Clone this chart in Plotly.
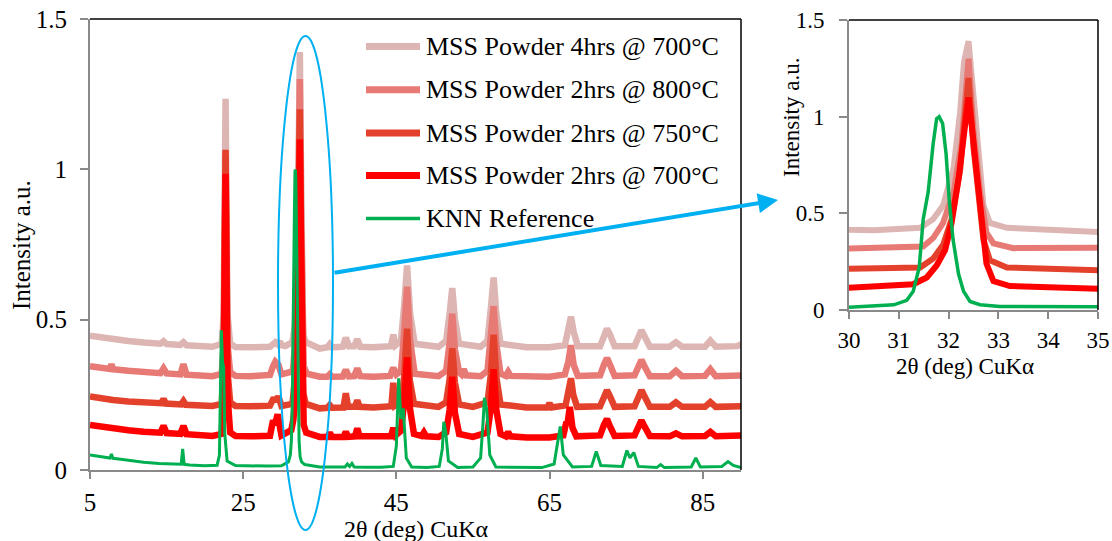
import plotly.graph_objects as go

W, H = 1112, 541
FONT = "Liberation Serif"

# ---- X-ray diffraction patterns: (2θ in degrees, normalised intensity) ----
knn_reference = [
    (5.0, 0.050), (6.0, 0.046), (7.0, 0.042), (7.6, 0.040), (7.8, 0.053), (8.0, 0.039),
    (9.0, 0.036), (10.0, 0.032), (12.0, 0.026), (14.0, 0.022), (16.0, 0.019), (16.9, 0.019),
    (17.1, 0.070), (17.3, 0.019), (18.0, 0.017), (20.0, 0.014), (21.6, 0.016), (21.9, 0.050),
    (22.05, 0.300), (22.15, 0.465), (22.3, 0.360), (22.45, 0.340), (22.6, 0.120), (22.9, 0.030),
    (24.0, 0.015), (26.0, 0.013), (28.0, 0.013), (30.0, 0.014), (30.9, 0.027), (31.16, 0.050),
    (31.29, 0.097), (31.41, 0.220), (31.49, 0.470), (31.59, 0.610), (31.69, 0.860), (31.76, 0.990),
    (31.81, 1.000), (31.88, 0.965), (31.95, 0.806), (32.01, 0.576), (32.09, 0.363), (32.2, 0.186),
    (32.3, 0.097), (32.43, 0.044), (32.63, 0.027), (33.03, 0.018), (35.0, 0.010), (37.0, 0.010),
    (38.3, 0.010), (38.6, 0.020), (38.9, 0.012), (39.2, 0.022), (39.5, 0.010), (41.0, 0.009),
    (43.0, 0.009), (44.6, 0.012), (45.0, 0.080), (45.3, 0.305), (45.6, 0.170), (45.9, 0.205),
    (46.3, 0.040), (47.0, 0.010), (49.0, 0.008), (50.6, 0.012), (51.0, 0.070), (51.2, 0.160),
    (51.45, 0.125), (51.8, 0.030), (53.0, 0.008), (55.0, 0.010), (56.0, 0.040), (56.3, 0.150),
    (56.5, 0.240), (56.8, 0.200), (57.2, 0.050), (58.0, 0.010), (61.0, 0.008), (64.0, 0.008),
    (65.6, 0.020), (66.0, 0.080), (66.4, 0.145), (66.8, 0.050), (68.0, 0.010), (70.5, 0.012),
    (71.1, 0.062), (71.7, 0.015), (74.5, 0.012), (75.1, 0.065), (75.5, 0.040), (76.0, 0.058),
    (76.6, 0.012), (79.0, 0.008), (79.5, 0.018), (80.0, 0.008), (83.5, 0.010), (84.1, 0.040),
    (84.7, 0.010), (87.5, 0.012), (88.3, 0.028), (89.0, 0.015), (90.0, 0.008),
]

mss_2h_700 = [
    (5.0, 0.150), (6.5, 0.143), (8.0, 0.138), (10.0, 0.132), (12.0, 0.127), (14.2, 0.124),
    (14.6, 0.147), (15.0, 0.123), (16.8, 0.120), (17.2, 0.147), (17.6, 0.119), (19.0, 0.116),
    (21.0, 0.113), (22.2, 0.120), (22.45, 0.250), (22.7, 0.985), (22.95, 0.250), (23.3, 0.125),
    (24.0, 0.113), (26.0, 0.112), (28.5, 0.114), (28.9, 0.165), (29.15, 0.150), (29.5, 0.185),
    (29.8, 0.125), (30.0, 0.115), (31.29, 0.133), (31.56, 0.168), (31.76, 0.230), (31.93, 0.310),
    (32.06, 0.450), (32.2, 0.680), (32.3, 0.895), (32.36, 1.036), (32.4, 1.100), (32.46, 0.965),
    (32.56, 0.717), (32.66, 0.434), (32.76, 0.240), (32.9, 0.150), (33.23, 0.124), (35.0, 0.110),
    (36.0, 0.110), (36.3, 0.124), (36.6, 0.110), (38.1, 0.110), (38.4, 0.127), (38.7, 0.110),
    (39.6, 0.112), (39.9, 0.138), (40.2, 0.112), (42.0, 0.110), (44.3, 0.112), (44.6, 0.140),
    (44.9, 0.115), (45.6, 0.130), (46.0, 0.220), (46.4, 0.375), (46.8, 0.200), (47.3, 0.120),
    (48.3, 0.113), (48.6, 0.125), (48.9, 0.112), (50.5, 0.110), (51.5, 0.125), (51.95, 0.200),
    (52.3, 0.310), (52.65, 0.190), (53.2, 0.120), (55.0, 0.110), (56.9, 0.125), (57.35, 0.210),
    (57.7, 0.335), (58.05, 0.200), (58.6, 0.120), (59.3, 0.112), (59.6, 0.126), (59.9, 0.112),
    (62.0, 0.108), (65.0, 0.108), (66.8, 0.115), (67.2, 0.160), (67.35, 0.155), (67.65, 0.210),
    (68.0, 0.140), (68.5, 0.112), (71.6, 0.115), (72.1, 0.150), (72.5, 0.170), (72.9, 0.145),
    (73.5, 0.113), (76.1, 0.115), (76.6, 0.150), (77.0, 0.165), (77.4, 0.145), (78.1, 0.113),
    (80.7, 0.112), (81.5, 0.122), (82.3, 0.112), (85.3, 0.113), (86.0, 0.127), (86.7, 0.112),
    (90.0, 0.115),
]

mss_2h_750 = [
    (5.0, 0.245), (6.5, 0.238), (8.0, 0.233), (10.0, 0.228), (12.0, 0.225), (14.3, 0.222),
    (14.6, 0.236), (14.9, 0.221), (16.9, 0.218), (17.2, 0.229), (17.5, 0.217), (19.0, 0.215),
    (21.0, 0.213), (22.2, 0.220), (22.45, 0.330), (22.7, 1.065), (22.95, 0.330), (23.3, 0.225),
    (24.0, 0.213), (26.0, 0.212), (28.5, 0.214), (29.0, 0.240), (29.3, 0.228), (29.6, 0.245),
    (29.9, 0.218), (30.0, 0.213), (31.43, 0.220), (31.69, 0.266), (31.89, 0.337), (32.06, 0.470),
    (32.23, 0.720), (32.33, 0.965), (32.4, 1.200), (32.5, 0.840), (32.6, 0.576), (32.7, 0.363),
    (32.83, 0.257), (33.17, 0.220), (35.0, 0.205), (36.0, 0.207), (36.3, 0.216), (36.6, 0.207),
    (38.1, 0.208), (38.4, 0.255), (38.7, 0.210), (39.6, 0.210), (39.9, 0.232), (40.2, 0.210),
    (42.0, 0.208), (44.35, 0.212), (44.6, 0.290), (44.85, 0.215), (45.7, 0.230), (46.05, 0.320),
    (46.4, 0.470), (46.75, 0.300), (47.3, 0.220), (50.5, 0.210), (51.5, 0.225), (51.95, 0.300),
    (52.3, 0.405), (52.65, 0.290), (53.2, 0.218), (55.0, 0.210), (56.9, 0.225), (57.35, 0.320),
    (57.7, 0.450), (58.05, 0.310), (58.6, 0.218), (62.0, 0.208), (64.7, 0.208), (65.0, 0.222),
    (65.3, 0.208), (67.1, 0.215), (67.5, 0.260), (67.8, 0.305), (68.1, 0.250), (68.6, 0.210),
    (71.6, 0.212), (72.1, 0.245), (72.5, 0.265), (72.9, 0.245), (73.5, 0.210), (76.1, 0.212),
    (76.6, 0.245), (77.0, 0.265), (77.4, 0.245), (78.1, 0.210), (80.7, 0.210), (81.5, 0.225),
    (82.3, 0.210), (85.3, 0.210), (86.0, 0.226), (86.7, 0.210), (90.0, 0.212),
]

mss_2h_800 = [
    (5.0, 0.345), (6.5, 0.340), (7.6, 0.336), (7.8, 0.352), (8.0, 0.335), (10.0, 0.330),
    (12.0, 0.326), (14.2, 0.322), (14.6, 0.338), (15.0, 0.321), (16.8, 0.318), (17.2, 0.352),
    (17.6, 0.317), (19.0, 0.314), (21.0, 0.312), (22.2, 0.320), (22.45, 0.420), (22.7, 1.050),
    (22.95, 0.420), (23.3, 0.325), (24.0, 0.313), (26.0, 0.312), (28.5, 0.316), (28.9, 0.345),
    (29.2, 0.360), (29.6, 0.350), (30.0, 0.318), (31.49, 0.328), (31.69, 0.372), (31.89, 0.450),
    (32.1, 0.610), (32.26, 0.860), (32.36, 1.160), (32.4, 1.300), (32.5, 0.930), (32.63, 0.610),
    (32.76, 0.400), (32.9, 0.345), (33.3, 0.320), (35.0, 0.310), (36.0, 0.310), (36.3, 0.318),
    (36.6, 0.310), (38.0, 0.311), (38.4, 0.333), (38.8, 0.311), (39.5, 0.312), (39.9, 0.338),
    (40.3, 0.312), (42.0, 0.310), (44.2, 0.313), (44.6, 0.340), (45.0, 0.318), (45.6, 0.330),
    (46.0, 0.450), (46.4, 0.610), (46.8, 0.430), (47.4, 0.320), (50.5, 0.312), (51.5, 0.330),
    (51.95, 0.420), (52.3, 0.520), (52.65, 0.400), (53.2, 0.325), (53.5, 0.318), (53.8, 0.335),
    (54.1, 0.315), (56.0, 0.312), (56.9, 0.330), (57.35, 0.430), (57.7, 0.545), (58.05, 0.420),
    (58.6, 0.320), (59.3, 0.313), (59.6, 0.326), (59.9, 0.313), (62.0, 0.310), (65.0, 0.310),
    (67.0, 0.318), (67.45, 0.360), (67.8, 0.415), (68.15, 0.350), (68.7, 0.313), (71.6, 0.315),
    (72.1, 0.350), (72.5, 0.372), (72.9, 0.350), (73.5, 0.313), (76.1, 0.315), (76.6, 0.350),
    (77.0, 0.366), (77.4, 0.345), (78.1, 0.312), (80.7, 0.312), (81.5, 0.330), (82.3, 0.312),
    (85.3, 0.313), (86.0, 0.335), (86.7, 0.312), (90.0, 0.314),
]

mss_4h_700 = [
    (5.0, 0.447), (6.5, 0.440), (8.0, 0.435), (10.0, 0.429), (12.0, 0.424), (14.2, 0.420),
    (14.6, 0.428), (15.0, 0.419), (16.8, 0.416), (17.2, 0.425), (17.6, 0.415), (19.0, 0.412),
    (21.0, 0.410), (22.2, 0.420), (22.45, 0.520), (22.7, 1.235), (22.95, 0.520), (23.3, 0.420),
    (24.0, 0.409), (26.0, 0.408), (28.5, 0.410), (29.2, 0.425), (29.5, 0.418), (29.8, 0.428),
    (30.0, 0.415), (30.5, 0.412), (31.43, 0.425), (31.69, 0.470), (31.89, 0.540), (32.1, 0.735),
    (32.23, 1.020), (32.31, 1.285), (32.4, 1.390), (32.5, 1.110), (32.6, 0.806), (32.7, 0.540),
    (32.83, 0.450), (33.17, 0.425), (35.0, 0.404), (36.0, 0.408), (36.3, 0.418), (36.6, 0.408),
    (38.0, 0.410), (38.4, 0.440), (38.8, 0.412), (39.5, 0.412), (39.9, 0.435), (40.3, 0.410),
    (42.0, 0.408), (44.3, 0.412), (44.6, 0.450), (44.9, 0.415), (45.6, 0.430), (46.0, 0.540),
    (46.4, 0.680), (46.8, 0.520), (47.4, 0.420), (50.5, 0.410), (51.5, 0.430), (51.95, 0.520),
    (52.3, 0.605), (52.65, 0.500), (53.2, 0.420), (56.0, 0.410), (56.9, 0.430), (57.35, 0.540),
    (57.7, 0.640), (58.05, 0.520), (58.6, 0.420), (62.0, 0.408), (65.0, 0.408), (67.0, 0.415),
    (67.45, 0.470), (67.8, 0.510), (68.15, 0.460), (68.7, 0.412), (71.6, 0.412), (72.1, 0.450),
    (72.5, 0.470), (72.9, 0.450), (73.5, 0.412), (76.1, 0.412), (76.6, 0.450), (77.0, 0.465),
    (77.4, 0.445), (78.1, 0.410), (80.7, 0.410), (81.5, 0.425), (82.3, 0.410), (85.3, 0.410),
    (86.0, 0.430), (86.7, 0.410), (89.5, 0.412), (90.0, 0.418),
]

series_names = [
    "MSS Powder 4hrs @ 700°C",
    "MSS Powder 2hrs @ 800°C",
    "MSS Powder 2hrs @ 750°C",
    "MSS Powder 2hrs @ 700°C",
    "KNN Reference",
]
series_data = [mss_4h_700, mss_2h_800, mss_2h_750, mss_2h_700, knn_reference]
series_colors = ["#DDB6B4", "#E87A76", "#E4412C", "#FF0000", "#00B050"]
main_widths = [6.5, 6.5, 6.5, 6.5, 3]
inset_widths = [6, 6, 6, 6, 3.5]

main_xticks = [5, 25, 45, 65, 85]
inset_xticks = [30, 31, 32, 33, 34, 35]
y_ticks = [0, 0.5, 1, 1.5]
y_ticktext = ["0", "0.5", "1", "1.5"]


def px(x):
    return x / W


def py(y):
    return 1 - y / H


fig = go.Figure()
for name, data, color, w_main, w_in in zip(series_names, series_data, series_colors,
                                           main_widths, inset_widths):
    xs = [p[0] for p in data]
    ys = [p[1] for p in data]
    fig.add_trace(go.Scatter(x=xs, y=ys, mode="lines", name=name,
                             line=dict(color=color, width=w_main),
                             xaxis="x", yaxis="y", showlegend=False))
    fig.add_trace(go.Scatter(x=xs, y=ys, mode="lines", name=name,
                             line=dict(color=color, width=w_in),
                             xaxis="x2", yaxis="y2", showlegend=False))

GREY = "#898989"
axis_common = dict(showline=True, linecolor=GREY, linewidth=2, ticks="outside",
                   tickcolor=GREY, tickwidth=2, showgrid=False, zeroline=False,
                   automargin=False)

fig.update_layout(
    width=W, height=H, autosize=False,
    margin=dict(l=0, r=0, t=0, b=0),
    paper_bgcolor="white", plot_bgcolor="white",
    font=dict(family=FONT, color="black"),
    xaxis=dict(domain=[px(90), px(741)], range=[5, 90], tickvals=main_xticks,
               ticklen=7, ticklabelstandoff=2, tickfont=dict(size=25, family=FONT),
               anchor="y", **axis_common),
    yaxis=dict(domain=[py(470), py(19)], range=[0, 1.5], tickvals=y_ticks,
               ticktext=y_ticktext, ticklen=8, ticklabelstandoff=8,
               tickfont=dict(size=25, family=FONT), anchor="x", **axis_common),
    xaxis2=dict(domain=[px(849), px(1098)], range=[30, 35], tickvals=inset_xticks,
                ticklen=7, ticklabelstandoff=1, tickfont=dict(size=23, family=FONT),
                anchor="y2", **axis_common),
    yaxis2=dict(domain=[py(310), py(20)], range=[0, 1.5], tickvals=y_ticks,
                ticktext=y_ticktext, ticklen=8, ticklabelstandoff=10,
                tickfont=dict(size=23, family=FONT), anchor="x2", **axis_common),
)

shapes = []
# black plot-area border on the top and right of both panels
for xd, yd in (("x domain", "y domain"), ("x2 domain", "y2 domain")):
    shapes.append(dict(type="line", xref=xd, yref=yd, x0=0, x1=1, y0=1, y1=1,
                       line=dict(color="black", width=1.5)))
    shapes.append(dict(type="line", xref=xd, yref=yd, x0=1, x1=1, y0=0, y1=1,
                       line=dict(color="black", width=1.5)))

# ellipse highlighting the main perovskite reflection
shapes.append(dict(type="circle", xref="paper", yref="paper",
                   x0=px(278), x1=px(333), y0=py(530), y1=py(36),
                   line=dict(color="#00B0F0", width=2), layer="above"))

# legend: line samples and labels
legend_rows = [46.6, 89.8, 133.0, 175.5, 218.4]
annotations = []
for name, color, w, row in zip(series_names, series_colors, main_widths, legend_rows):
    shapes.append(dict(type="line", xref="paper", yref="paper",
                       x0=px(366), x1=px(420), y0=py(row), y1=py(row),
                       line=dict(color=color, width=w + 0.5)))
    annotations.append(dict(text=name, xref="paper", yref="paper",
                            x=px(424), y=py(row), xanchor="left", yanchor="middle",
                            showarrow=False, font=dict(size=26, family=FONT)))

# axis titles
annotations += [
    dict(text="2θ (deg) CuKα", xref="paper", yref="paper", x=px(416), y=py(529),
         showarrow=False, xanchor="center", yanchor="middle",
         font=dict(size=24, family=FONT)),
    dict(text="Intensity a.u.", xref="paper", yref="paper", x=px(22), y=py(245),
         showarrow=False, textangle=-90, xanchor="center", yanchor="middle",
         font=dict(size=25, family=FONT)),
    dict(text="2θ (deg) CuKα", xref="paper", yref="paper", x=px(965), y=py(366),
         showarrow=False, xanchor="center", yanchor="middle",
         font=dict(size=23, family=FONT)),
    dict(text="Intensity a.u.", xref="paper", yref="paper", x=px(792), y=py(118),
         showarrow=False, textangle=-90, xanchor="center", yanchor="middle",
         font=dict(size=23, family=FONT)),
]

# arrow from the highlighted peak to the zoomed panel
annotations.append(dict(text="", xref="paper", yref="paper", x=px(778), y=py(200),
                        ax=333 - 778, ay=273 - 200, showarrow=True,
                        arrowhead=2, arrowsize=1, arrowwidth=4,
                        arrowcolor="#00B0F0", standoff=0))

fig.update_layout(shapes=shapes, annotations=annotations)
fig.write_html("out.html")
